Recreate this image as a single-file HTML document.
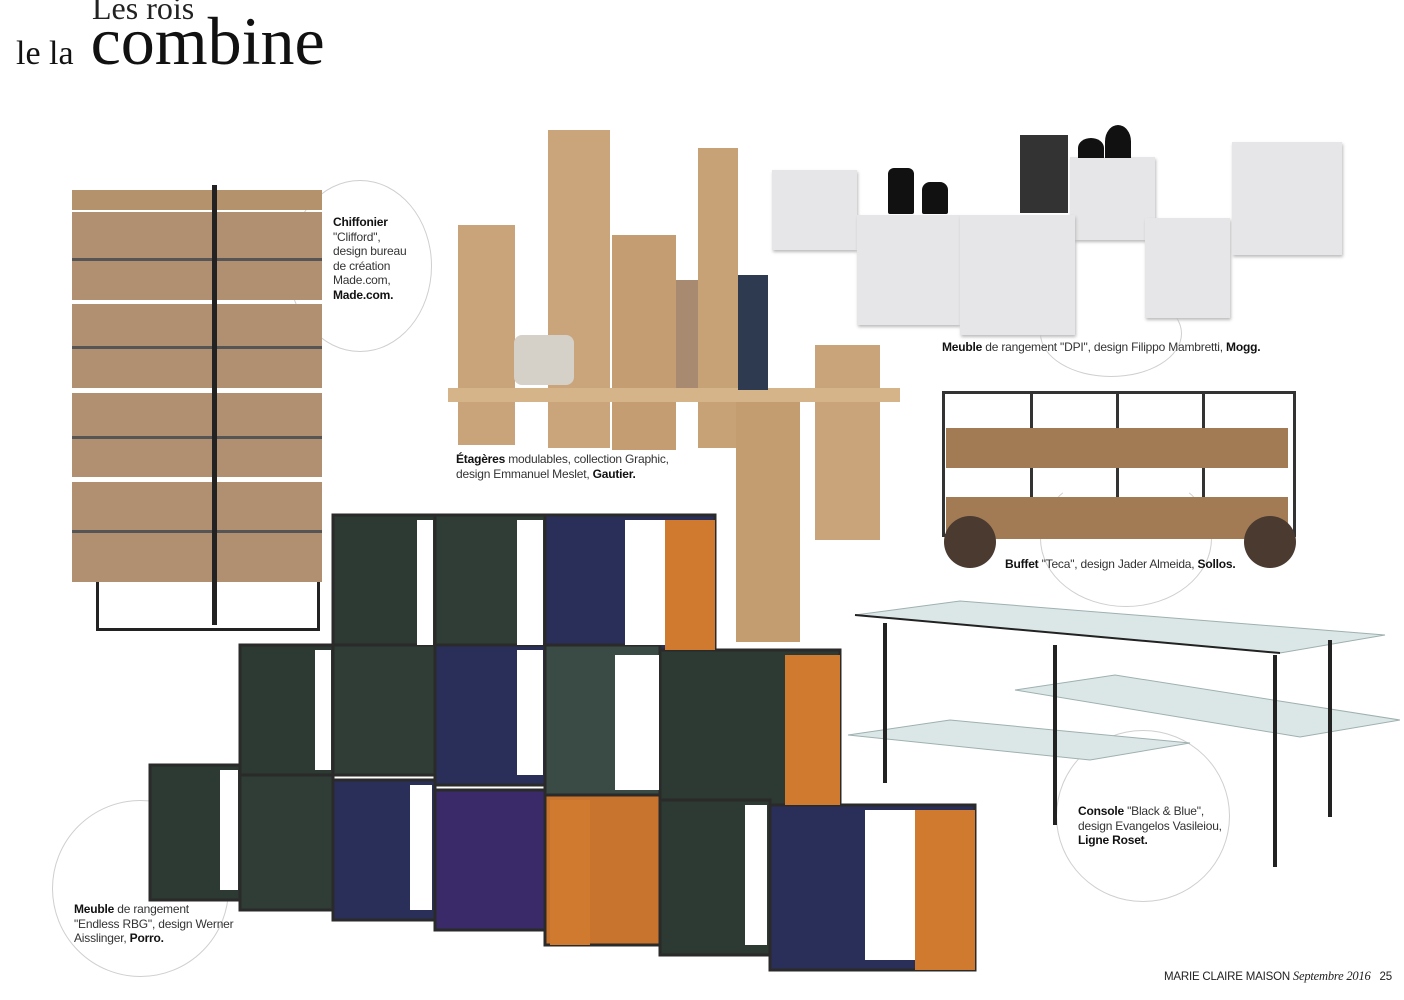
<!DOCTYPE html>
<html><head><meta charset="utf-8"><style>
body{margin:0;width:1404px;height:1000px;background:#fff;position:relative;overflow:hidden;font-family:"Liberation Sans",sans-serif}
.a{position:absolute}
.w{background:#c49f76}
.c{position:absolute;border:1px solid #cfcfcf;border-radius:50%}
.t{position:absolute;font-size:12px;line-height:14.5px;color:#333;white-space:nowrap;letter-spacing:-0.2px}
.t b{color:#111}
.sq{position:absolute;background:#e6e6e8;box-shadow:1px 2px 3px #bbb}
</style></head><body>
<div class="a" style="left:92px;top:-10px;font:32px 'Liberation Serif',serif;color:#222">Les rois</div>
<div class="a" style="left:16px;top:2px;font:68px 'Liberation Serif',serif;color:#111;white-space:nowrap"><span style="font-size:34px">le la</span> combine</div>

<!-- circles -->
<div class="c" style="left:288px;top:180px;width:142px;height:170px"></div>
<div class="c" style="left:1040px;top:290px;width:140px;height:85px;border-top-color:transparent"></div>
<div class="c" style="left:1040px;top:470px;width:170px;height:135px;border-top-color:transparent"></div>
<div class="c" style="left:1056px;top:730px;width:172px;height:170px"></div>
<div class="c" style="left:52px;top:800px;width:175px;height:175px"></div>

<!-- chiffonier -->
<div class="a" style="left:96px;top:540px;width:218px;height:88px;border:3px solid #222;border-top:none"></div>
<div class="a w" style="left:72px;top:190px;width:250px;height:20px;background:#b4926c"></div>
<div class="a w" style="left:72px;top:212px;width:250px;height:88px;background:#b09070"></div>
<div class="a w" style="left:72px;top:304px;width:250px;height:84px;background:#b09070"></div>
<div class="a w" style="left:72px;top:393px;width:250px;height:84px;background:#b09070"></div>
<div class="a w" style="left:72px;top:482px;width:250px;height:100px;background:#b09070"></div>
<div class="a" style="left:72px;top:258px;width:250px;height:3px;background:#555"></div>
<div class="a" style="left:72px;top:346px;width:250px;height:3px;background:#555"></div>
<div class="a" style="left:72px;top:436px;width:250px;height:3px;background:#555"></div>
<div class="a" style="left:72px;top:530px;width:250px;height:3px;background:#555"></div>
<div class="a" style="left:212px;top:185px;width:5px;height:440px;background:#222"></div>
<div class="t" style="left:333px;top:215px"><b>Chiffonier</b><br>"Clifford",<br>design bureau<br>de création<br>Made.com,<br><b>Made.com.</b></div>

<!-- shelves -->
<div class="a" style="left:458px;top:225px;width:57px;height:220px;background:#c9a47a"></div>
<div class="a" style="left:548px;top:130px;width:62px;height:318px;background:#caa57b"></div>
<div class="a" style="left:612px;top:235px;width:64px;height:215px;background:#c49d72"></div>
<div class="a" style="left:676px;top:280px;width:30px;height:110px;background:#a88a70"></div>
<div class="a" style="left:698px;top:148px;width:40px;height:300px;background:#c8a277"></div>
<div class="a" style="left:736px;top:400px;width:64px;height:242px;background:#c39c70"></div>
<div class="a" style="left:815px;top:345px;width:65px;height:195px;background:#c9a47a"></div>
<div class="a" style="left:448px;top:388px;width:452px;height:14px;background:#d6b48a"></div>
<div class="a" style="left:514px;top:335px;width:60px;height:50px;background:#d5d0c8;border-radius:8px"></div>
<div class="a" style="left:738px;top:275px;width:30px;height:115px;background:#2d3a50"></div>
<div class="t" style="left:456px;top:452px"><b>Étagères</b> modulables, collection Graphic,<br>design Emmanuel Meslet, <b>Gautier.</b></div>

<!-- DPI -->
<div class="sq" style="left:772px;top:170px;width:85px;height:80px"></div>
<div class="sq" style="left:857px;top:215px;width:103px;height:110px"></div>
<div class="sq" style="left:1070px;top:157px;width:85px;height:83px"></div>
<div class="sq" style="left:960px;top:215px;width:115px;height:120px"></div>
<div class="sq" style="left:1145px;top:218px;width:85px;height:100px"></div>
<div class="sq" style="left:1232px;top:142px;width:110px;height:113px"></div>
<div class="a" style="left:888px;top:168px;width:26px;height:46px;background:#111;border-radius:6px 6px 2px 2px"></div>
<div class="a" style="left:922px;top:182px;width:26px;height:32px;background:#111;border-radius:8px 8px 2px 2px"></div>
<div class="a" style="left:1020px;top:135px;width:48px;height:78px;background:#333"></div>
<div class="a" style="left:1078px;top:138px;width:26px;height:20px;background:#111;border-radius:50% 50% 0 0"></div>
<div class="a" style="left:1105px;top:125px;width:26px;height:33px;background:#111;border-radius:50% 50% 0 0"></div>
<div class="t" style="left:942px;top:340px"><b>Meuble</b> de rangement "DPI", design Filippo Mambretti, <b>Mogg.</b></div>

<!-- buffet -->
<div class="a" style="left:942px;top:391px;width:348px;height:140px;border:3px solid #333"></div>
<div class="a" style="left:1030px;top:391px;width:3px;height:140px;background:#333"></div>
<div class="a" style="left:1116px;top:391px;width:3px;height:140px;background:#333"></div>
<div class="a" style="left:1202px;top:391px;width:3px;height:140px;background:#333"></div>
<div class="a" style="left:946px;top:428px;width:342px;height:40px;background:#a27b55"></div>
<div class="a" style="left:946px;top:497px;width:342px;height:42px;background:#a27b55"></div>
<div class="a" style="left:944px;top:516px;width:52px;height:52px;border-radius:50%;background:#4a3a30"></div>
<div class="a" style="left:1244px;top:516px;width:52px;height:52px;border-radius:50%;background:#4a3a30"></div>
<div class="t" style="left:1005px;top:557px"><b>Buffet</b> "Teca", design Jader Almeida, <b>Sollos.</b></div>

<!-- console -->
<svg class="a" style="left:840px;top:595px" width="560" height="280">
<g fill="#dbe6e6" stroke="#9fb0b0" stroke-width="1">
<polygon points="15,20 120,6 545,40 440,58"/>
<polygon points="175,95 275,80 560,125 460,142"/>
<polygon points="8,140 110,125 350,148 250,165"/>
</g>
<g stroke="#222" stroke-width="4">
<line x1="45" y1="28" x2="45" y2="188"/><line x1="215" y1="50" x2="215" y2="230"/>
<line x1="435" y1="60" x2="435" y2="272"/><line x1="490" y1="45" x2="490" y2="222"/>
<line x1="15" y1="20" x2="440" y2="58" stroke-width="2"/>
</g></svg>
<div class="t" style="left:1078px;top:804px"><b>Console</b> "Black &amp; Blue",<br>design Evangelos Vasileiou,<br><b>Ligne Roset.</b></div>

<!-- cubes -->
<svg class="a" style="left:145px;top:505px" width="840" height="475">
<g stroke="#2a2a2a" stroke-width="3">
<rect x="188" y="10" width="102" height="135" fill="#2c3a33"/>
<rect x="290" y="10" width="110" height="135" fill="#2f3d36"/>
<rect x="400" y="10" width="170" height="135" fill="#2a2f5a"/>
<rect x="95" y="140" width="93" height="130" fill="#2c3a33"/>
<rect x="188" y="140" width="102" height="130" fill="#2f3d36"/>
<rect x="290" y="140" width="110" height="140" fill="#2a2f5a"/>
<rect x="400" y="140" width="115" height="150" fill="#3a4a44"/>
<rect x="515" y="145" width="180" height="155" fill="#2c3a33"/>
<rect x="5" y="260" width="90" height="135" fill="#2c3a33"/>
<rect x="95" y="270" width="93" height="135" fill="#2f3d36"/>
<rect x="188" y="275" width="102" height="140" fill="#2a2f5a"/>
<rect x="290" y="285" width="110" height="140" fill="#3b2a6a"/>
<rect x="400" y="290" width="115" height="150" fill="#c8742f"/>
<rect x="515" y="295" width="110" height="155" fill="#2c3a33"/>
<rect x="625" y="300" width="205" height="165" fill="#2a2f5a"/>
</g>
<g fill="#d07a30">
<rect x="520" y="15" width="50" height="130"/><rect x="640" y="150" width="55" height="150"/>
<rect x="770" y="305" width="60" height="160"/><rect x="405" y="295" width="40" height="145"/>
</g>
<g fill="#fff">
<rect x="272" y="15" width="16" height="125"/><rect x="372" y="15" width="26" height="125"/>
<rect x="480" y="15" width="40" height="125"/><rect x="170" y="145" width="16" height="120"/>
<rect x="372" y="145" width="26" height="125"/><rect x="470" y="150" width="44" height="135"/>
<rect x="75" y="265" width="18" height="120"/><rect x="265" y="280" width="22" height="125"/>
<rect x="600" y="300" width="22" height="140"/><rect x="720" y="305" width="50" height="150"/>
</g></svg>
<div class="t" style="left:74px;top:902px"><b>Meuble</b> de rangement<br>"Endless RBG", design Werner<br>Aisslinger, <b>Porro.</b></div>

<div class="a" style="left:1164px;top:969px;font-size:11.5px;color:#222;white-space:nowrap;letter-spacing:-0.2px">MARIE CLAIRE MAISON <i style="font-family:'Liberation Serif',serif;font-size:12.5px">Septembre 2016</i> &nbsp; 25</div>
</body></html>
